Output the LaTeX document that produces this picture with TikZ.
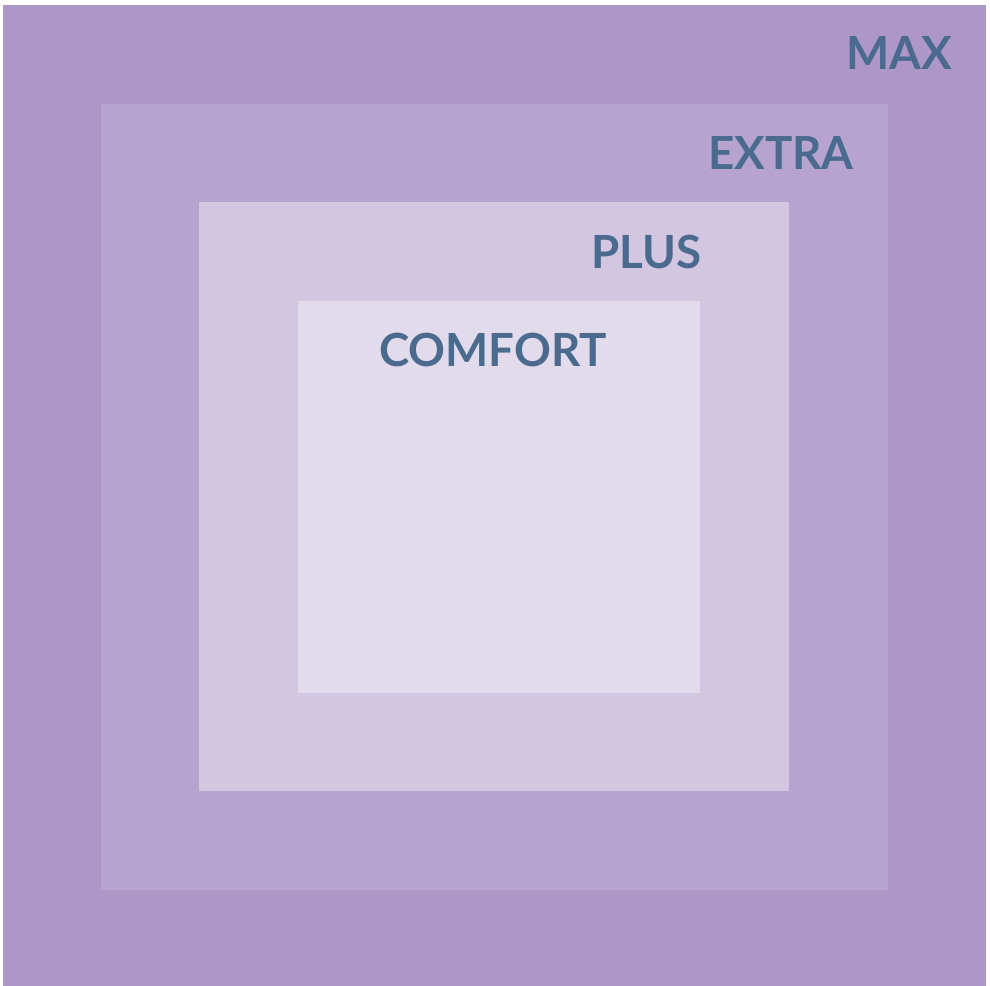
\documentclass[tikz,border=0pt]{standalone}
\usepackage{fontspec}
\setmainfont{Lato}
\usepackage{xcolor}

\definecolor{maxcol}{HTML}{AD97C7}
\definecolor{extracol}{HTML}{B6A3CE}
\definecolor{pluscol}{HTML}{D3C6E0}
\definecolor{comfortcol}{HTML}{E2DBEC}
\definecolor{labelcol}{HTML}{4A6A8E}

\tikzset{
  tierlabel/.style={text=labelcol, font=\fontsize{26}{30}\selectfont\bfseries, inner sep=0pt, anchor=base east}
}

\begin{document}
\begin{tikzpicture}[x=0.02cm, y=-0.02cm]
    \useasboundingbox (0,0) rectangle (990,986);
    % Tiers
    \fill[maxcol] (3,5) rectangle (986,986);
    \coordinate (maxne) at (986,5);
    \fill[extracol] (101,104) rectangle (888,890);
    \coordinate (extrane) at (888,104);
    \fill[pluscol] (199,202) rectangle (789,791);
    \coordinate (plusne) at (789,202);
    \fill[comfortcol] (298,301) rectangle (700,693);
    \coordinate (comfortn) at (499,301);
    % Labels
    \node[tierlabel] (maxlbl) at ([xshift=-0.68cm, yshift=-1.3cm]maxne) {MAX};
    \node[tierlabel] (extralbl) at ([xshift=-0.68cm, yshift=-1.32cm]extrane) {EXTRA};
    \node[tierlabel] (pluslbl) at ([xshift=-1.74cm, yshift=-1.34cm]plusne) {PLUS};
    \node[tierlabel, anchor=base] (comfortlbl) at ([xshift=-0.12cm, yshift=-1.32cm]comfortn) {COMFORT};
\end{tikzpicture}
\end{document}
